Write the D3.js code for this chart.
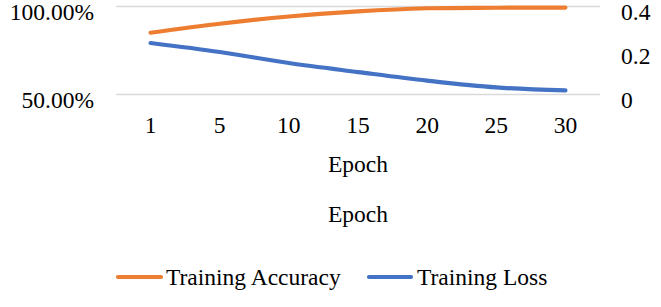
<!DOCTYPE html>
<html>
<head>
<meta charset="utf-8">
<script src="https://cdn.jsdelivr.net/npm/d3@7/dist/d3.min.js"></script>
<style>
  html, body { margin: 0; padding: 0; background: #fff; }
  svg { display: block; }
  svg text { font-family: "Liberation Serif", "Times New Roman", "DejaVu Serif", serif; fill: #000; }
</style>
</head>
<body>
<svg id="chart" width="661" height="307"></svg>
<script>
const epochs = ["1", "5", "10", "15", "20", "25", "30"];
const trainingAccuracy = [0.851, 0.902, 0.943, 0.972, 0.990, 0.993, 0.994];
const trainingLoss = [0.234, 0.193, 0.143, 0.102, 0.063, 0.032, 0.019];
const leftTicks = [0.5, 1.0];
const rightTicks = [0, 0.2, 0.4];
const seriesNames = ["Training Accuracy", "Training Loss"];
const seriesColors = ["#ED7D31", "#4472C4"];
const xTitle = "Epoch";

const svg = d3.select("#chart");
const fs = 23.5;
const plot = { left: 116, right: 600, top: 6.5, bottom: 94.5 };

const x = d3.scaleBand().domain(epochs).range([plot.left, plot.right]).padding(0);
const yL = d3.scaleLinear().domain([0.5, 1.0]).range([plot.bottom, plot.top]);
const yR = d3.scaleLinear().domain([0, 0.4]).range([plot.bottom, plot.top]);
const cx = d => x(d) + x.bandwidth() / 2;

// gridlines (primary axis)
svg.append("g").selectAll("line").data(leftTicks).join("line")
  .attr("x1", plot.left).attr("x2", plot.right)
  .attr("y1", d => yL(d)).attr("y2", d => yL(d))
  .attr("stroke", "#D9D9D9").attr("stroke-width", 1.3);

function styleAxis(g) {
  g.attr("font-family", null).attr("font-size", null);
  g.select(".domain").remove();
  g.selectAll("text").attr("font-size", fs).attr("fill", "#000");
}

// left axis
const gL = svg.append("g").attr("transform", `translate(${plot.left},0)`)
  .call(d3.axisLeft(yL).tickValues(leftTicks).tickFormat(d3.format(".2%")).tickSize(0).tickPadding(22));
styleAxis(gL);
gL.selectAll("text").attr("dy", 13);

// right axis
const gR = svg.append("g").attr("transform", `translate(${plot.right},0)`)
  .call(d3.axisRight(yR).tickValues(rightTicks).tickFormat(d3.format("~g")).tickSize(0).tickPadding(21));
styleAxis(gR);
gR.selectAll("text").attr("dy", 13);

// bottom axis
const gX = svg.append("g").attr("transform", `translate(0,${plot.bottom})`)
  .call(d3.axisBottom(x).tickSize(0));
styleAxis(gX);
gX.selectAll("text").attr("y", 38.5).attr("dy", 0);

// axis titles (appears twice in the reference)
const midX = (plot.left + plot.right) / 2;
[172, 222].forEach(yy => {
  svg.append("text").attr("x", midX).attr("y", yy).attr("text-anchor", "middle")
    .attr("font-size", fs).text(xTitle);
});

// lines
const lineAcc = d3.line().x((d, i) => cx(epochs[i])).y(d => yL(d)).curve(d3.curveCardinal.tension(0));
const lineLoss = d3.line().x((d, i) => cx(epochs[i])).y(d => yR(d)).curve(d3.curveCardinal.tension(0));

svg.append("path").attr("d", lineAcc(trainingAccuracy))
  .attr("fill", "none").attr("stroke", seriesColors[0]).attr("stroke-width", 4.2)
  .attr("stroke-linecap", "round").attr("stroke-linejoin", "round");
svg.append("path").attr("d", lineLoss(trainingLoss))
  .attr("fill", "none").attr("stroke", seriesColors[1]).attr("stroke-width", 4.2)
  .attr("stroke-linecap", "round").attr("stroke-linejoin", "round");

// legend
const legendItems = [
  { name: seriesNames[0], color: seriesColors[0], x1: 118, x2: 161, tx: 166 },
  { name: seriesNames[1], color: seriesColors[1], x1: 369, x2: 411, tx: 417 }
];
const ly = 277;
const lg = svg.append("g");
legendItems.forEach(it => {
  lg.append("line").attr("x1", it.x1).attr("x2", it.x2).attr("y1", ly).attr("y2", ly)
    .attr("stroke", it.color).attr("stroke-width", 4.2).attr("stroke-linecap", "round");
  lg.append("text").attr("x", it.tx).attr("y", ly + 7.5).attr("font-size", fs).text(it.name);
});
</script>
</body>
</html>
